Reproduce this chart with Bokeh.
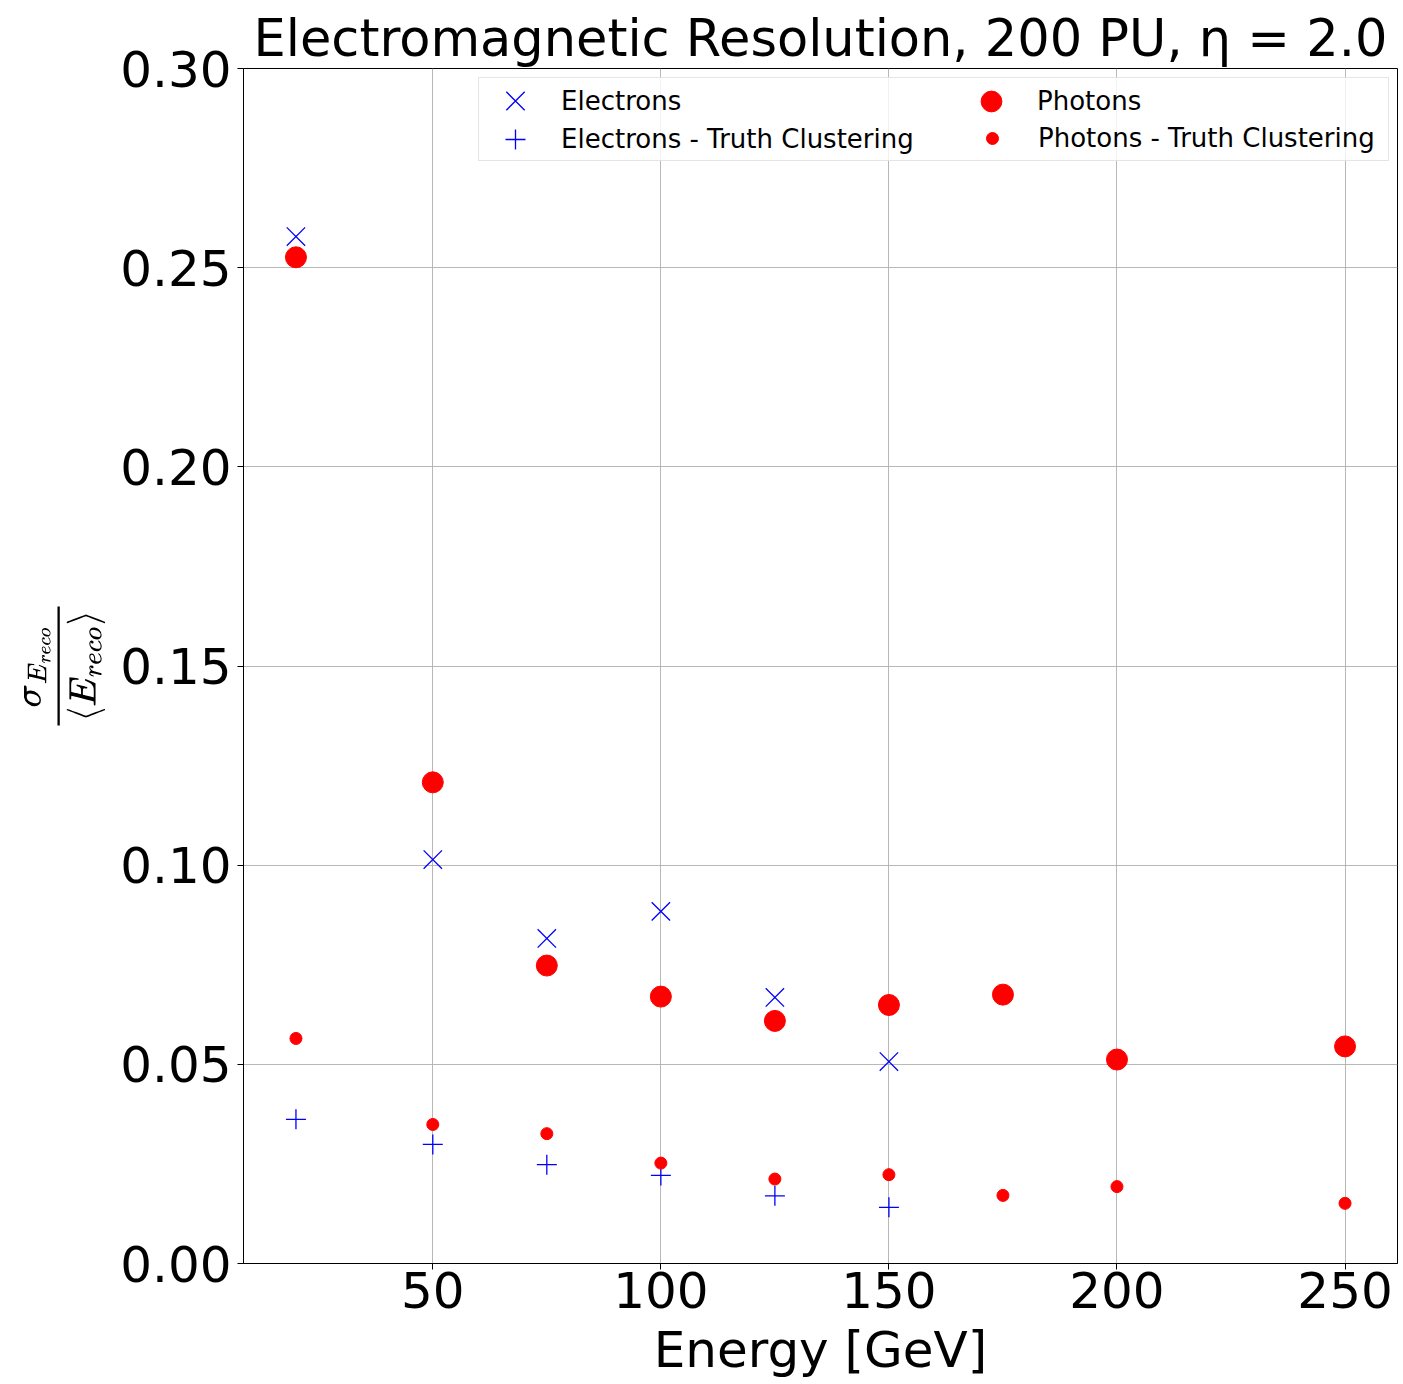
from bokeh.plotting import figure
from bokeh.models import Range1d, FixedTicker, NumeralTickFormatter, Legend, LegendItem, TeX
from bokeh.embed import file_html
from bokeh.resources import INLINE

# ---- data ----
energy_electrons = [20, 50, 75, 100, 125, 150]
res_electrons = [0.2578, 0.1014, 0.0816, 0.0884, 0.0668, 0.0507]
res_electrons_truth = [0.0362, 0.0299, 0.0248, 0.0221, 0.0170, 0.0141]

energy_photons = [20, 50, 75, 100, 125, 150, 175, 200, 250]
res_photons = [0.2526, 0.1208, 0.0748, 0.0670, 0.0609, 0.0649, 0.0675, 0.0512, 0.0545]
res_photons_truth = [0.0565, 0.0349, 0.0326, 0.0252, 0.0212, 0.0223, 0.0171, 0.0193, 0.0151]

x_ticks = [50, 100, 150, 200, 250]
y_ticks = [0.0, 0.05, 0.10, 0.15, 0.20, 0.25, 0.30]

title_text = "Electromagnetic Resolution, 200 PU, η = 2.0"
x_label = "Energy [GeV]"
y_label = r"\frac{\sigma_{E_{reco}}}{\langle E_{reco}\rangle}"

FONT = "DejaVu Sans"

p = figure(frame_width=1154, frame_height=1195,
           x_range=Range1d(8.5, 261.5), y_range=Range1d(0, 0.3),
           output_backend="svg", toolbar_location=None,
           min_border_left=243, min_border_top=68, min_border_right=4,
           min_border_bottom=0)

p.title.text = title_text
p.title.align = "center"
p.title.text_font = FONT
p.title.text_font_size = "51px"
p.title.text_font_style = "normal"
p.title.text_color = "black"
p.title.standoff = 2

p.outline_line_color = "black"
p.outline_line_width = 1
p.outline_line_alpha = 1

for ax in (p.xaxis, p.yaxis):
    ax.major_label_text_font = FONT
    ax.major_label_text_font_size = "50px"
    ax.major_label_text_color = "black"
    ax.axis_label_text_font = FONT
    ax.axis_label_text_font_style = "normal"
    ax.axis_label_text_color = "black"
    ax.major_tick_out = 6
    ax.major_tick_in = 0
    ax.minor_tick_out = 0
    ax.minor_tick_in = 0
    ax.axis_line_color = "black"
    ax.major_tick_line_color = "black"

p.xaxis.ticker = FixedTicker(ticks=x_ticks)
p.yaxis.ticker = FixedTicker(ticks=y_ticks)
p.xaxis.formatter = NumeralTickFormatter(format="0")
p.yaxis.formatter = NumeralTickFormatter(format="0.00")
p.xaxis.axis_label = x_label
p.xaxis.axis_label_text_font_size = "50px"
p.xaxis.axis_label_standoff = 10
p.xaxis.major_label_standoff = 2
p.yaxis.axis_label = TeX(text=y_label)
p.yaxis.axis_label_text_font_size = "31px"
p.yaxis.major_label_standoff = 6
p.yaxis.axis_label_standoff = 12

p.grid.grid_line_color = "#b0b0b0"
p.grid.grid_line_width = 1
p.grid.grid_line_alpha = 0.9

r_e = p.scatter(energy_electrons, res_electrons, marker="x", size=26,
                line_color="blue", line_width=1.3)
r_g = p.scatter(energy_photons, res_photons, marker="circle", size=21,
                fill_color="red", line_color="red")
r_et = p.scatter(energy_electrons, res_electrons_truth, marker="cross", size=20,
                 line_color="blue", line_width=1.3)
r_gt = p.scatter(energy_photons, res_photons_truth, marker="circle", size=12,
                 fill_color="red", line_color="red")

txt = dict(label_text_font=FONT, label_text_font_size="26px",
           label_text_color="black", label_standoff=6, glyph_width=80,
           margin=0, spacing=0)

# framed legend: it carries the last entry and its padding spans the full box
leg_frame = Legend(items=[LegendItem(label="Photons - Truth Clustering", renderers=[r_gt])],
                   location=(235, 1102), glyph_height=30,
                   padding=dict(left=473, right=13, top=45, bottom=7),
                   border_line_color="#cccccc", border_line_width=1,
                   background_fill_color="white", background_fill_alpha=0.8,
                   **txt)
clear = dict(padding=0, border_line_alpha=0, background_fill_alpha=0)
leg_e = Legend(items=[LegendItem(label="Electrons", renderers=[r_e])],
               location=(232, 1130), glyph_height=65, **clear, **txt)
leg_et = Legend(items=[LegendItem(label="Electrons - Truth Clustering", renderers=[r_et])],
                location=(232, 1099), glyph_height=50, **clear, **txt)
leg_g = Legend(items=[LegendItem(label="Photons", renderers=[r_g])],
               location=(708, 1136), glyph_height=52, **clear, **txt)
for lg in (leg_frame, leg_e, leg_et, leg_g):
    p.add_layout(lg, "center")

open("out.html", "w").write(file_html(p, INLINE))
